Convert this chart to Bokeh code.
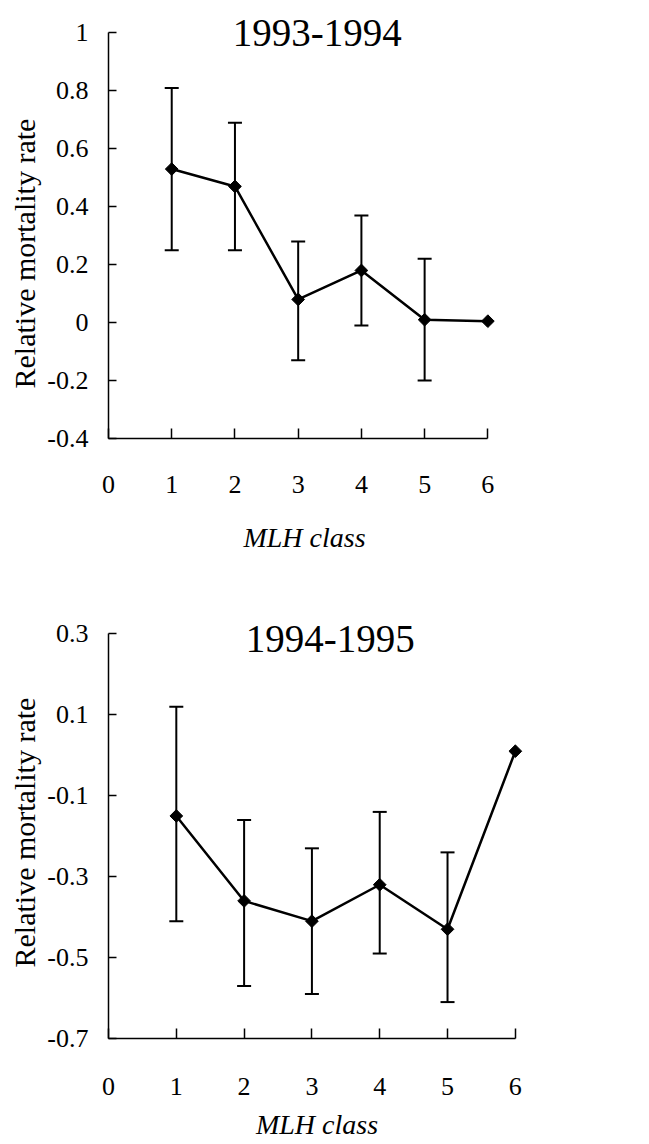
from bokeh.plotting import figure
from bokeh.models import (Range1d, FixedTicker, CustomJSTickFormatter, Whisker,
                          TeeHead, ColumnDataSource, Label, Title)
from bokeh.layouts import column
from bokeh.embed import file_html
from bokeh.resources import INLINE
import math

# ---------------- data ----------------
classes = [1, 2, 3, 4, 5, 6]
x_ticks = [0, 1, 2, 3, 4, 5, 6]
x_label = "MLH class"
y_label = "Relative mortality rate"

title_a = "1993-1994"
mean_a = [0.53, 0.47, 0.08, 0.18, 0.01, 0.005]
upper_a = [0.81, 0.69, 0.28, 0.37, 0.22, None]
lower_a = [0.25, 0.25, -0.13, -0.01, -0.20, None]
y_ticks_a = [-0.4, -0.2, 0, 0.2, 0.4, 0.6, 0.8, 1]

title_b = "1994-1995"
mean_b = [-0.15, -0.36, -0.41, -0.32, -0.43, 0.01]
upper_b = [0.12, -0.16, -0.23, -0.14, -0.24, None]
lower_b = [-0.41, -0.57, -0.59, -0.49, -0.61, None]
y_ticks_b = [-0.7, -0.5, -0.3, -0.1, 0.1, 0.3]

FONT = "Liberation Serif"


def make_panel(title, mean, upper, lower, yticks, x_end, y_end, frame_w, frame_h,
               b_top, b_bottom, lab_standoff, xlab_standoff, title_x, title_y,
               ylab_offset):
    p = figure(frame_width=frame_w, frame_height=frame_h,
               x_range=Range1d(0, x_end), y_range=Range1d(min(yticks), y_end),
               output_backend="svg", toolbar_location=None,
               min_border_left=108, min_border_right=20,
               min_border_top=b_top, min_border_bottom=b_bottom)
    p.grid.visible = False
    p.outline_line_color = None
    p.background_fill_color = "white"
    p.border_fill_color = "white"

    # axes
    xa = p.xaxis[0]
    xa.ticker = FixedTicker(ticks=x_ticks)
    xa.bounds = (0, 6)
    xa.major_tick_in = 10
    xa.major_tick_out = 0
    xa.minor_tick_line_color = None
    xa.axis_line_width = 1.5
    xa.major_tick_line_width = 1.5
    xa.axis_line_color = "black"
    xa.major_tick_line_color = "black"
    xa.major_label_standoff = lab_standoff
    xa.major_label_text_font = FONT
    xa.major_label_text_font_size = "26px"
    xa.major_label_text_color = "black"
    xa.axis_label = x_label
    xa.axis_label_text_font = FONT
    xa.axis_label_text_font_style = "italic"
    xa.axis_label_text_font_size = "28px"
    xa.axis_label_text_color = "black"
    xa.axis_label_standoff = xlab_standoff

    ya = p.yaxis[0]
    ya.ticker = FixedTicker(ticks=yticks)
    ya.formatter = CustomJSTickFormatter(code="return String(Math.round(tick*10)/10)")
    ya.bounds = (min(yticks), max(yticks))
    ya.major_tick_in = 8
    ya.major_tick_out = 0
    ya.minor_tick_line_color = None
    ya.axis_line_width = 1.5
    ya.major_tick_line_width = 1.5
    ya.axis_line_color = "black"
    ya.major_tick_line_color = "black"
    ya.major_label_standoff = 20
    ya.major_label_text_font = FONT
    ya.major_label_text_font_size = "26px"
    ya.major_label_text_color = "black"

    # y axis title, shifted along the axis like the reference
    p.add_layout(Title(text=y_label, align="left", offset=ylab_offset,
                       text_font=FONT, text_font_size="30px",
                       text_font_style="normal", text_color="black",
                       standoff=8), "left")

    # error bars
    ex = [c for c, u in zip(classes, upper) if u is not None]
    eu = [u for u in upper if u is not None]
    el = [l for l in lower if l is not None]
    esrc = ColumnDataSource(dict(x=ex, upper=eu, lower=el))
    w = Whisker(base="x", upper="upper", lower="lower", source=esrc,
                line_width=2, line_color="black",
                upper_head=TeeHead(size=14, line_width=2, line_color="black"),
                lower_head=TeeHead(size=14, line_width=2, line_color="black"))
    p.add_layout(w)

    src = ColumnDataSource(dict(x=classes, y=mean))
    p.line("x", "y", source=src, line_width=2.5, line_color="black")
    p.scatter("x", "y", source=src, marker="square", size=9, angle=math.pi / 4,
              fill_color="black", line_color="black")

    p.add_layout(Label(x=title_x, y=title_y, text=title, text_align="center",
                       text_baseline="middle", text_font=FONT,
                       text_font_size="39px", text_color="black"))
    return p


p1 = make_panel(title_a, mean_a, upper_a, lower_a, y_ticks_a,
                x_end=6.2, y_end=1.06, frame_w=392, frame_h=423,
                b_top=15, b_bottom=155, lab_standoff=37, xlab_standoff=26,
                title_x=3.3, title_y=1.0, ylab_offset=50)
p2 = make_panel(title_b, mean_b, upper_b, lower_b, y_ticks_b,
                x_end=6.15, y_end=0.38, frame_w=417, frame_h=437,
                b_top=8, b_bottom=105, lab_standoff=39, xlab_standoff=11,
                title_x=3.27, title_y=0.288, ylab_offset=71)

layout = column(p1, p2)
open("out.html", "w").write(file_html(layout, INLINE))
